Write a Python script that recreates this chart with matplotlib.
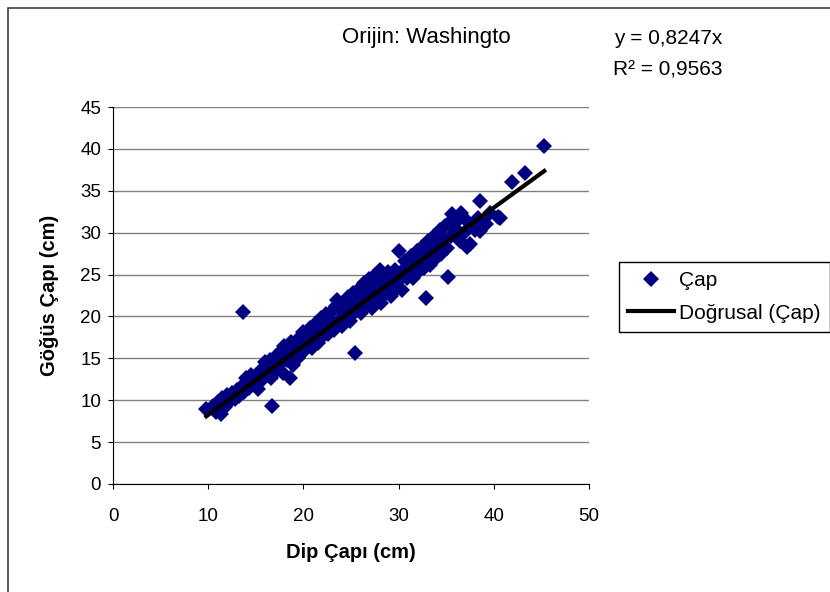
import numpy as np
import matplotlib
matplotlib.use('Agg')
import matplotlib.pyplot as plt
from matplotlib.patches import Rectangle

plt.rcParams['font.family'] = ['Liberation Sans', 'DejaVu Sans']

# Dip capi (x) / Gogus capi (y), cm
dip = [9.8, 10.5, 10.8, 11.0, 11.3, 11.5, 11.8, 12.0, 12.2, 12.5, 12.8, 13.0, 13.2, 13.5, 13.8,
       13.7, 14.0, 14.3, 14.5, 14.8, 15.0, 15.2,
       15.5, 15.7, 16.0, 16.2, 16.5, 16.6, 16.8, 16.7, 17.0, 17.2, 17.5, 17.7, 17.9, 18.0,
       18.3, 18.5, 18.7, 18.9, 18.6, 19.2, 19.4, 19.6, 19.8, 20.0, 20.0,
       20.3, 20.5, 20.7, 20.9, 21.0, 21.3, 21.5, 21.6, 21.8, 22.0, 22.2, 22.4, 22.6, 22.8,
       23.0, 23.2, 23.4, 23.5, 23.7, 23.9, 24.1, 24.3, 24.5, 24.7, 24.9, 25.0,
       25.2, 25.4, 25.6, 25.4, 25.8, 26.0, 26.2, 26.4, 26.5, 26.7, 26.9, 27.0, 27.2, 27.3,
       27.5, 27.7, 27.9, 28.0, 28.2, 28.3, 28.5, 28.7, 28.9, 29.0, 29.2, 29.4, 29.6, 29.8,
       30.0, 30.0,
       30.4, 30.5, 30.7, 30.9, 31.1, 31.3, 31.5, 31.7, 31.9, 32.1, 32.3, 32.5, 32.7, 32.9,
       33.1, 33.3, 33.5, 32.9, 33.7, 33.9, 34.1, 34.3, 34.5, 34.7, 34.9, 35.1, 35.3, 35.2,
       35.5, 35.6,
       36.0, 36.2, 36.4, 36.6, 36.9, 37.2, 37.5, 37.2, 38.0, 38.3, 38.6, 38.5, 39.2, 39.6,
       40.4, 40.6, 41.9, 43.3, 45.3]
gogus = [9.0, 9.3, 8.6, 9.8, 8.4, 10.3, 9.2, 10.6, 9.8, 10.9, 10.2, 11.2, 10.5, 11.7, 11.0,
         20.5, 12.6, 11.5, 13.0, 12.0, 12.8, 11.3,
         13.6, 12.4, 14.6, 13.0, 14.8, 12.6, 13.8, 9.3, 15.2, 13.6, 14.3, 16.0, 13.2, 16.5,
         14.8, 15.6, 17.0, 14.2, 12.6, 16.4, 15.0, 17.6, 16.0, 15.8, 18.2,
         16.8, 17.5, 18.6, 16.2, 17.8, 19.2, 16.8, 18.2, 19.8, 17.5, 18.8, 20.3, 17.9, 19.4,
         20.6, 18.4, 21.2, 22.0, 19.6, 20.8, 18.9, 21.5, 20.0, 22.3, 19.4, 21.0,
         22.8, 20.5, 21.8, 15.6, 23.3, 20.4, 22.4, 24.0, 21.2, 23.0, 24.5, 22.0, 21.0, 23.6,
         25.0, 22.4, 24.2, 25.6, 21.6, 23.2, 24.8, 22.8, 25.3, 23.8, 22.4, 24.6, 25.6, 23.4,
         24.4, 27.8,
         23.2, 25.6, 26.6, 24.6, 25.8, 27.2, 24.6, 26.2, 27.8, 25.4, 26.8, 28.3, 25.8, 27.4,
         29.0, 26.2, 28.0, 22.2, 29.6, 27.0, 28.6, 30.3, 27.4, 29.2, 30.8, 28.2, 31.2, 24.7,
         29.6, 32.2,
         30.4, 31.5, 29.0, 32.4, 30.0, 31.4, 28.6, 28.3, 30.3, 31.8, 30.2, 33.8, 31.0, 32.4,
         31.9, 31.7, 36.0, 37.1, 40.3]

slope = 0.8247
r2 = 0.9563

fig = plt.figure(figsize=(8.3, 5.92), dpi=100)
ax = fig.add_axes([113 / 830, 1 - 484 / 592, 476 / 830, 377 / 592])

ax.plot(dip, gogus, 'D', color='#000080', markersize=8, markeredgewidth=0,
        linestyle='none', label='Çap', zorder=3)
xfit = np.array([min(dip), max(dip)])
ax.plot(xfit, slope * xfit, color='black', linewidth=3, label='Doğrusal (Çap)', zorder=4)

ax.set_xlim(0, 50)
ax.set_ylim(0, 45)
ax.set_xticks(np.arange(0, 51, 10))
ax.set_yticks(np.arange(0, 46, 5))
ax.yaxis.grid(True, color='#808080', linewidth=1)
ax.set_axisbelow(True)
ax.spines['top'].set_visible(False)
ax.spines['right'].set_visible(False)
ax.tick_params(direction='out', length=3.6, labelsize=13.5)
ax.tick_params(axis='x', pad=13.5)
ax.tick_params(axis='y', pad=5)
ax.set_xlabel('Dip Çapı (cm)', fontsize=14.5, fontweight='bold', labelpad=13)
ax.set_ylabel('Göğüs Çapı (cm)', fontsize=14.5, fontweight='bold', labelpad=15)

fig.text(426 / 830, 1 - 38 / 592, 'Orijin: Washingto', fontsize=16, ha='center', va='center')
fig.text(614 / 830, 1 - 38 / 592, 'y = %s' % str(slope).replace('.', ',') + 'x',
         fontsize=15, ha='left', va='center')
fig.text(613 / 830, 1 - 70 / 592, 'R² = %s' % str(r2).replace('.', ','),
         fontsize=15, ha='left', va='center')

fig.legend(loc='upper left', bbox_to_anchor=(619 / 830, 1 - 262 / 592), fontsize=15,
           frameon=True, fancybox=False, edgecolor='black', framealpha=1, borderaxespad=0,
           borderpad=0.45, handlelength=2.2, handletextpad=0.25, labelspacing=0.64)

# outer chart frame (clipped on right/bottom)
fig.patches.append(Rectangle((8 / 830, -0.1), 1.2, 1 - 8 / 592 + 0.1, transform=fig.transFigure,
                             fill=False, edgecolor='#404040', linewidth=1.2))

fig.savefig('out.png', dpi=100)
